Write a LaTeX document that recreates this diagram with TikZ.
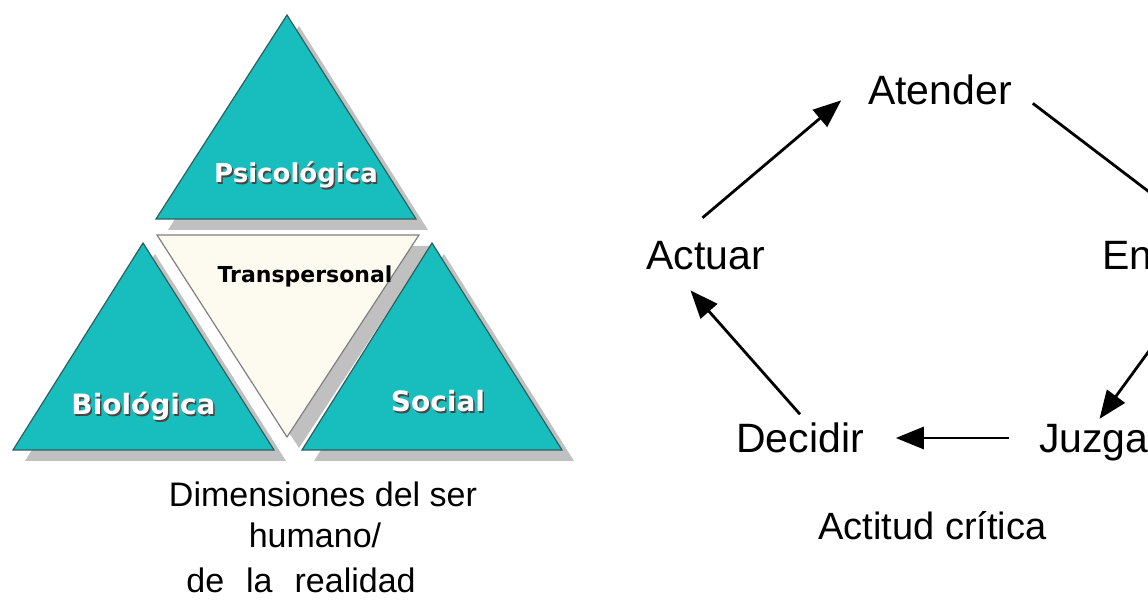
\documentclass[tikz,border=0pt]{standalone}
\usepackage{fontspec}
\setmainfont{Liberation Sans}
\newfontfamily\lblfont{DejaVu Sans}
\usetikzlibrary{arrows.meta,calc}
\definecolor{tealfill}{RGB}{24,190,190}
\definecolor{tealedge}{RGB}{45,95,95}
\definecolor{shadowgray}{RGB}{192,192,192}
\definecolor{creamfill}{RGB}{253,250,240}
\definecolor{txtshadow}{RGB}{70,70,70}
\tikzset{
  tri/.style={fill=tealfill,draw=tealedge,line width=0.6pt,line join=miter},
  tritrans/.style={fill=creamfill,draw=gray,line width=0.6pt},
  trishadow/.style={fill=shadowgray},
  whitelbl/.style={inner sep=0pt,outer sep=0pt,anchor=base,text=white,font=\lblfont\bfseries\fontsize{14}{16}\selectfont},
  lblshadow/.style={whitelbl,text=txtshadow},
  word/.style={inner sep=0pt,outer sep=0pt,anchor=base,font=\fontsize{20.5}{24}\selectfont},
  capt/.style={inner sep=0pt,outer sep=0pt,anchor=base,font=\fontsize{17}{20}\selectfont},
  arr/.style={line width=1.4pt,-{Triangle[length=14pt,width=11pt]}},
  plainline/.style={line width=1.4pt}
}
\begin{document}
\begin{tikzpicture}[x=0.5pt,y=-0.5pt]
\useasboundingbox (0,0) rectangle (1148,604);
\clip (0,0) rectangle (1148,604);
\fill[white] (0,0) rectangle (1148,604);

% --- left: dimensions pyramid ---
\begin{scope}[shift={(12,11)}]
  \fill[trishadow] (287,15) -- (416,219) -- (156,219) -- cycle;
  \fill[trishadow] (157,235) -- (419,235) -- (287,437) -- cycle;
\end{scope}
\draw[tri] (287,15) -- (416,219) -- (156,219) -- cycle;
\draw[tritrans] (157,235) -- (419,235) -- (287,437) -- cycle;
\begin{scope}[shift={(12,11)}]
  \fill[trishadow] (143,243) -- (274,450) -- (13,450) -- cycle;
  \fill[trishadow] (432,243) -- (562,450) -- (302,450) -- cycle;
\end{scope}
\draw[tri] (143,243) -- (274,450) -- (13,450) -- cycle;
\draw[tri] (432,243) -- (562,450) -- (302,450) -- cycle;

\node[lblshadow,font=\lblfont\bfseries\fontsize{13}{15}\selectfont] at (297.5,184.5) {Psicológica};
\node[whitelbl,font=\lblfont\bfseries\fontsize{13}{15}\selectfont] (psi) at (296,183) {Psicológica};
\node[lblshadow] at (145,416.5) {Biológica};
\node[whitelbl] (bio) at (143.5,415) {Biológica};
\node[lblshadow] at (439.5,413.5) {Social};
\node[whitelbl] (soc) at (438,412) {Social};
\node[inner sep=0pt,outer sep=0pt,anchor=base,font=\lblfont\bfseries\fontsize{11}{13}\selectfont] (tra) at (305,283) {Transpersonal};

\node[capt] (cap1) at (323,507) {Dimensiones del ser};
\node[capt] (cap2) at (315,548) {humano/};
\node[capt] (cap3) at (301,593) {\spaceskip=11pt de la realidad};

% --- right: cycle ---
\node[word] (ate) at (940,105) {Atender};
\node[word,anchor=base west] (ent) at (1102,270) {Entender};
\node[word,anchor=base west] (juz) at (1039,453) {Juzgar};
\node[word] (dec) at (800,453) {Decidir};
\node[word] (act) at (705.5,270) {Actuar};
\node[inner sep=0pt,outer sep=0pt,anchor=base,font=\fontsize{19}{22}\selectfont] (crit) at (932.5,540) {Actitud crítica};

\draw[arr] ($(act.north)+(-3,-24)$) -- ($(ate.west)+(-27,10)$);
\draw[arr] ($(ate.east)+(21,13)$) -- ($(ent.north)+(-4,-24)$);
\draw[arr] ($(ent.south)+(8,20)$) -- ($(juz.north)+(-1,-6)$);
\draw[arr] ($(juz.base west)+(-30,-15)$) -- ($(dec.base east)+(32,-15)$);
\draw[arr] ($(dec.north)+(0,-9)$) -- ($(act.south)+(-15,20)$);
\end{tikzpicture}
\end{document}
